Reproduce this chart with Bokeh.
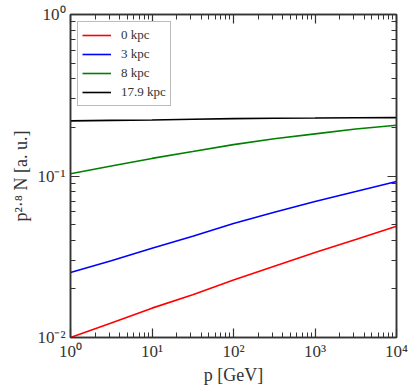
from bokeh.plotting import figure
from bokeh.models import Range1d, FixedTicker, LogAxis, Legend, LegendItem
from bokeh.embed import file_html
from bokeh.resources import INLINE

# data
p_gev = [1, 3.162, 10, 31.62, 100, 316.2, 1000, 3162, 10000]
n_0kpc = [0.0100, 0.0123, 0.0152, 0.0184, 0.0227, 0.0276, 0.0336, 0.0404, 0.0488]
n_3kpc = [0.0253, 0.0299, 0.0357, 0.0424, 0.0508, 0.0596, 0.0696, 0.0801, 0.0924]
n_8kpc = [0.1033, 0.1152, 0.1285, 0.1417, 0.1564, 0.1700, 0.1824, 0.1953, 0.2060]
n_17kpc = [0.2195, 0.2210, 0.2222, 0.2245, 0.2266, 0.2280, 0.2286, 0.2295, 0.2300]
series_names = ["0 kpc", "3 kpc", "8 kpc", "17.9 kpc"]
series_colors = ["#ff0000", "#0000ff", "#008000", "#000000"]

x_major = [1, 10, 100, 1000, 10000]
x_labels = ["10⁰", "10¹", "10²", "10³", "10⁴"]
y_major = [0.01, 0.1, 1]
y_labels = ["10⁻²", "10⁻¹", "10⁰"]

x_minor = [m * d for d in [1, 10, 100, 1000] for m in range(2, 10)]
y_minor = [m * d for d in [0.01, 0.1] for m in range(2, 10)]

FONT = "Liberation Serif"
AX = "#333333"

p = figure(width=413, height=388, x_axis_type="log", y_axis_type="log",
           x_range=Range1d(1, 10000), y_range=Range1d(0.01, 1),
           output_backend="svg", toolbar_location=None,
           min_border_left=70, min_border_top=14, min_border_right=17,
           min_border_bottom=51)
p.background_fill_color = "white"
p.border_fill_color = "white"
p.outline_line_color = AX
p.outline_line_width = 1.5
p.grid.visible = False

def style_axis(ax, ticks, minor, labels, show_labels=True):
    ax.ticker = FixedTicker(ticks=ticks, minor_ticks=minor)
    ax.major_tick_in = 9
    ax.major_tick_out = 0
    ax.minor_tick_in = 5
    ax.minor_tick_out = 0
    ax.major_tick_line_color = AX
    ax.minor_tick_line_color = AX
    ax.major_tick_line_width = 1.2
    ax.minor_tick_line_width = 1.0
    ax.axis_line_color = AX
    ax.axis_line_width = 1.5
    if show_labels:
        ax.major_label_overrides = {t: l for t, l in zip(ticks, labels)}
        ax.major_label_text_font = FONT
        ax.major_label_text_font_size = "17px"
        ax.major_label_text_color = "#333333"
        ax.axis_label_text_font = FONT
        ax.axis_label_text_font_size = "18px"
        ax.axis_label_text_font_style = "normal"
        ax.axis_label_text_color = "#333333"
    else:
        ax.major_label_text_color = None
        ax.major_label_text_font_size = "6px"
        ax.major_label_standoff = 0

xa = p.xaxis[0]
ya = p.yaxis[0]
style_axis(xa, x_major, x_minor, x_labels)
style_axis(ya, y_major, y_minor, y_labels)
xa.axis_label = "p [GeV]"
xa.major_label_standoff = 4
xa.axis_label_standoff = 1
ya.axis_label = "p²·⁸ N [a. u.]"
ya.major_label_standoff = 5
ya.axis_label_standoff = 3

top = LogAxis()
right = LogAxis()
style_axis(top, x_major, x_minor, x_labels, show_labels=False)
style_axis(right, y_major, y_minor, y_labels, show_labels=False)
p.add_layout(top, "above")
p.add_layout(right, "right")

series = [n_0kpc, n_3kpc, n_8kpc, n_17kpc]
items = []
for name, col, ys in zip(series_names, series_colors, series):
    r = p.line(p_gev, ys, line_color=col, line_width=1.6)
    items.append(LegendItem(label=name, renderers=[r]))

legend = Legend(items=items, location="top_left")
legend.label_text_font = FONT
legend.label_text_font_size = "13px"
legend.label_text_color = "#333333"
legend.glyph_width = 29
legend.glyph_height = 18
legend.label_height = 18
legend.spacing = 1
legend.padding = 4
legend.margin = 7
legend.label_standoff = 10
legend.border_line_color = "#777777"
legend.border_line_width = 1
legend.background_fill_color = "white"
legend.background_fill_alpha = 1
p.add_layout(legend)

open("out.html", "w").write(file_html(p, INLINE))
